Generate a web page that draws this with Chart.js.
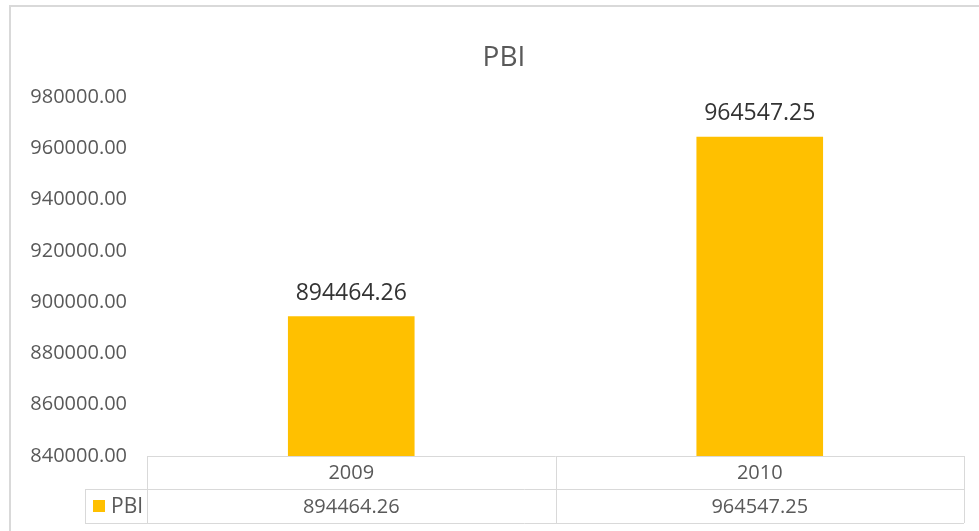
<!DOCTYPE html>
<html>
<head>
<meta charset="utf-8">
<script src="https://cdn.jsdelivr.net/npm/chart.js@4.4.1/dist/chart.umd.min.js"></script>
<style>
  html, body { margin: 0; padding: 0; background: #fff; }
  #wrap { width: 979px; height: 531px; position: relative; }
</style>
</head>
<body>
<div id="wrap"><canvas id="pbiChart"></canvas></div>
<script>
var years = ['2009', '2010'];
var pbiValues = [894464.26, 964547.25];
var seriesName = 'PBI';
var chartTitle = 'PBI';
var yTickValues = [840000, 860000, 880000, 900000, 920000, 940000, 960000, 980000];

var fontFamily = "'Open Sans', 'Noto Sans', sans-serif";
var lineColor = '#d9d9d9';
var barColor = '#FFC000';

function hLine(ctx, x1, x2, y) {
    ctx.beginPath();
    ctx.moveTo(x1, y + 0.5);
    ctx.lineTo(x2, y + 0.5);
    ctx.stroke();
}
function vLine(ctx, x, y1, y2) {
    ctx.beginPath();
    ctx.moveTo(x + 0.5, y1);
    ctx.lineTo(x + 0.5, y2);
    ctx.stroke();
}

// outer frame (only top/left visible in the picture) + title centred on the frame,
// which runs a bit past the right side of the window
var framePlugin = {
    id: 'frame',
    beforeDraw: function(chart) {
        var ctx = chart.ctx;
        ctx.save();
        ctx.fillStyle = '#fff';
        ctx.fillRect(0, 0, chart.width, chart.height);
        ctx.strokeStyle = lineColor;
        ctx.lineWidth = 2;
        ctx.beginPath();
        ctx.moveTo(10, chart.height);
        ctx.lineTo(10, 6);
        ctx.lineTo(chart.width, 6);
        ctx.stroke();

        ctx.font = '28px ' + fontFamily;
        ctx.fillStyle = '#595959';
        ctx.textAlign = 'center';
        ctx.textBaseline = 'middle';
        ctx.fillText(chartTitle, (10 + chart.width + 19) / 2, chart.chartArea.top - 39);
        ctx.restore();
    }
};

// value labels above bars
var barLabels = {
    id: 'barLabels',
    afterDatasetsDraw: function(chart) {
        var ctx = chart.ctx;
        var meta = chart.getDatasetMeta(0);
        ctx.save();
        ctx.font = '23px ' + fontFamily;
        ctx.fillStyle = '#333333';
        ctx.textAlign = 'center';
        ctx.textBaseline = 'middle';
        meta.data.forEach(function(bar, i) {
            ctx.fillText(pbiValues[i].toFixed(2), bar.x, bar.y - 23);
        });
        ctx.restore();
    }
};

// excel style data table under the plot
var dataTable = {
    id: 'dataTable',
    afterDraw: function(chart) {
        var ctx = chart.ctx;
        var area = chart.chartArea;
        var xs = chart.scales.x;
        var half = (area.right - area.left) / years.length / 2;
        var top = Math.round(area.bottom);
        var mid = top + 33;
        var bot = mid + 34;
        var legendLeft = 85;

        ctx.save();
        ctx.strokeStyle = lineColor;
        ctx.lineWidth = 1;
        hLine(ctx, area.left, area.right, top);
        hLine(ctx, legendLeft, area.right, mid);
        hLine(ctx, legendLeft, area.right, bot);
        vLine(ctx, legendLeft, mid, bot);
        vLine(ctx, Math.round(area.left), top, bot);

        ctx.font = '20px ' + fontFamily;
        ctx.fillStyle = '#595959';
        ctx.textAlign = 'center';
        ctx.textBaseline = 'middle';
        years.forEach(function(y, i) {
            var cx = xs.getPixelForValue(i);
            vLine(ctx, Math.round(cx + half), top, bot);
            ctx.fillText(y, cx, (top + mid) / 2 + 1);
            ctx.fillText(pbiValues[i].toFixed(2), cx, (mid + bot) / 2 + 1);
        });

        var rowMid = (mid + bot) / 2;
        ctx.fillStyle = barColor;
        ctx.fillRect(legendLeft + 8, rowMid - 6, 12, 12);
        ctx.fillStyle = '#595959';
        ctx.textAlign = 'left';
        ctx.font = '21px ' + fontFamily;
        ctx.fillText(seriesName, legendLeft + 26, rowMid + 1);
        ctx.restore();
    }
};

var ctx = document.getElementById('pbiChart').getContext('2d');
var pbiChart = new Chart(ctx, {
    type: 'bar',
    data: {
        labels: years,
        datasets: [{
            label: seriesName,
            data: pbiValues,
            backgroundColor: barColor,
            borderWidth: 0,
            barPercentage: 0.31,
            categoryPercentage: 1
        }]
    },
    options: {
        responsive: true,
        maintainAspectRatio: false,
        animation: false,
        layout: {
            padding: { left: 0, right: 15, top: 97, bottom: 75 }
        },
        plugins: {
            legend: { display: false },
            tooltip: { enabled: false },
            title: { display: false }
        },
        scales: {
            x: {
                display: false
            },
            y: {
                min: 840000,
                max: 980000,
                afterBuildTicks: function(scale) {
                    scale.ticks = yTickValues.map(function(v) { return { value: v }; });
                },
                afterFit: function(scale) {
                    scale.width = 147;
                },
                grid: { display: false, drawTicks: false },
                border: { display: false },
                ticks: {
                    padding: 20,
                    color: '#595959',
                    font: { family: fontFamily, size: 20 },
                    callback: function(v) { return Number(v).toFixed(2); }
                }
            }
        }
    },
    plugins: [framePlugin, barLabels, dataTable]
});
</script>
</body>
</html>
